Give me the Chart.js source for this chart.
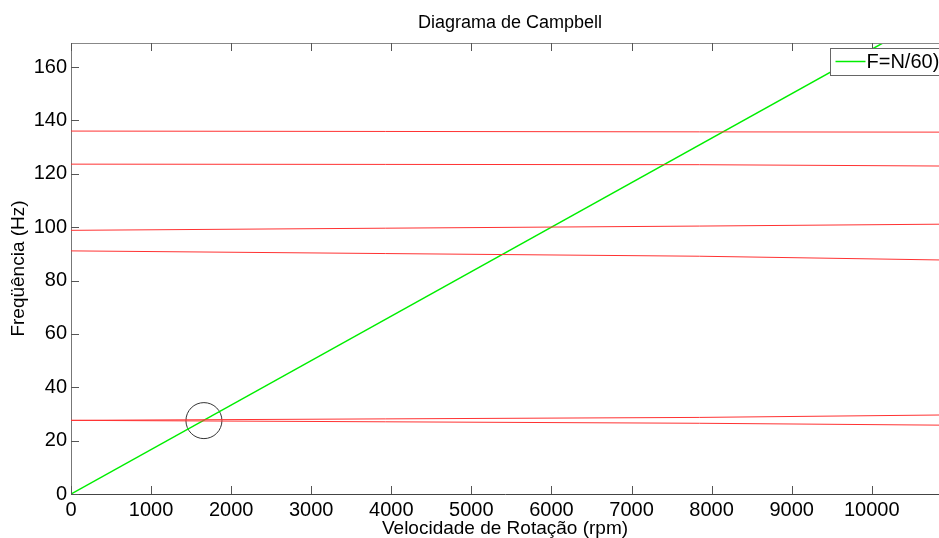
<!DOCTYPE html>
<html lang="pt">
<head>
<meta charset="UTF-8">
<title>Diagrama de Campbell</title>
<script src="https://cdn.jsdelivr.net/npm/chart.js"></script>
<style>
    body {
        margin: 0;
        background: #fff;
    }
    #wrap {
        width: 939px;
        height: 538px;
        position: relative;
    }
</style>
</head>
<body>
<div id="wrap"><canvas id="campbell"></canvas></div>
<script>
    // rotacao (rpm) onde as frequencias naturais foram lidas
    const rpm = [0, 7850, 10850];
    const modo1 = [136.0, 135.7, 135.6];
    const modo2 = [123.6, 123.4, 122.9];
    const modo3 = [98.8, 100.4, 101.1];
    const modo4 = [91.1, 89.1, 87.7];
    const modo5 = [27.6, 28.7, 29.6];
    const modo6 = [27.6, 26.5, 25.8];

    // reta de excitacao F = N/60
    const rpmExcitacao = [0, 10200];
    const freqExcitacao = [0, 170];
    const legendaExcitacao = 'F=N/60)';

    // ponto de ressonancia marcado
    const ressonancia = { x: 1660, y: 27.5 };

    const xTicks = [0, 1000, 2000, 3000, 4000, 5000, 6000, 7000, 8000, 9000, 10000];
    const yTicks = [0, 20, 40, 60, 80, 100, 120, 140, 160];

    const FONTE = "'Liberation Sans', Arial, Helvetica, sans-serif";

    function serie(ys, cor, largura) {
        return {
            data: rpm.map((x, i) => ({ x: x, y: ys[i] })),
            borderColor: cor,
            borderWidth: largura,
            pointRadius: 0,
            showLine: true,
            fill: false
        };
    }

    const vermelho = 'rgb(255, 50, 50)';

    const eixosMatlab = {
        id: 'eixosMatlab',
        afterDatasetsDraw(chart) {
            const { ctx, chartArea: a, scales: { x, y } } = chart;
            ctx.save();

            // borda superior
            ctx.lineWidth = 1;
            ctx.strokeStyle = '#888';
            ctx.beginPath();
            ctx.moveTo(a.left, a.top + 0.5);
            ctx.lineTo(a.right, a.top + 0.5);
            ctx.stroke();

            // marcas para dentro
            ctx.strokeStyle = '#555';
            ctx.beginPath();
            xTicks.forEach(v => {
                const px = Math.round(x.getPixelForValue(v)) + 0.5;
                ctx.moveTo(px, a.bottom);
                ctx.lineTo(px, a.bottom - 8);
                ctx.moveTo(px, a.top);
                ctx.lineTo(px, a.top + 8);
            });
            yTicks.forEach(v => {
                const py = Math.round(y.getPixelForValue(v)) + 0.5;
                ctx.moveTo(a.left, py);
                ctx.lineTo(a.left + 8, py);
            });
            ctx.stroke();

            // legenda
            const lx = 830.5, ly = 48.5;
            ctx.fillStyle = '#fff';
            ctx.fillRect(lx, ly, 130, 27);
            ctx.strokeStyle = '#666';
            ctx.strokeRect(lx, ly, 130, 27);
            ctx.strokeStyle = '#00ee00';
            ctx.lineWidth = 1.5;
            ctx.beginPath();
            ctx.moveTo(lx + 5, ly + 13);
            ctx.lineTo(lx + 35, ly + 13);
            ctx.stroke();
            ctx.fillStyle = '#000';
            ctx.font = '20px ' + FONTE;
            ctx.textBaseline = 'middle';
            ctx.textAlign = 'left';
            ctx.fillText(legendaExcitacao, lx + 36, ly + 14);

            // titulo
            ctx.font = '18px ' + FONTE;
            ctx.textAlign = 'center';
            ctx.textBaseline = 'alphabetic';
            ctx.fillText('Diagrama de Campbell', (a.left + a.right) / 2 + 5, 28);

            ctx.restore();
        }
    };

    new Chart(document.getElementById('campbell'), {
        type: 'scatter',
        data: {
            datasets: [
                serie(modo1, vermelho, 1),
                serie(modo2, vermelho, 1),
                serie(modo3, vermelho, 1),
                serie(modo4, vermelho, 1),
                serie(modo5, vermelho, 1),
                serie(modo6, vermelho, 1),
                {
                    label: legendaExcitacao,
                    data: rpmExcitacao.map((x, i) => ({ x: x, y: freqExcitacao[i] })),
                    borderColor: '#00ee00',
                    borderWidth: 1.5,
                    pointRadius: 0,
                    showLine: true
                },
                {
                    data: [ressonancia],
                    pointRadius: 18,
                    pointBorderColor: '#333',
                    pointBorderWidth: 1,
                    pointBackgroundColor: 'rgba(0,0,0,0)',
                    showLine: false
                }
            ]
        },
        options: {
            responsive: true,
            maintainAspectRatio: false,
            animation: false,
            events: [],
            layout: {
                autoPadding: false,
                padding: { top: 43, left: 0, right: 0, bottom: 0 }
            },
            plugins: {
                legend: { display: false },
                title: { display: false },
                tooltip: { enabled: false }
            },
            scales: {
                x: {
                    type: 'linear',
                    min: 0,
                    max: 10840,
                    grid: { display: false, drawTicks: false },
                    border: { display: true, color: '#444', width: 1 },
                    ticks: {
                        includeBounds: false,
                        autoSkip: false,
                        maxRotation: 0,
                        padding: 4,
                        color: '#000',
                        font: { family: FONTE, size: 20 },
                        callback: v => String(v)
                    },
                    afterBuildTicks: s => { s.ticks = xTicks.map(v => ({ value: v })); },
                    afterFit: s => {
                        s.height = 44;
                        s.paddingLeft = 0;
                        s.paddingRight = 0;
                    },
                    title: {
                        display: true,
                        text: 'Velocidade de Rotação (rpm)',
                        color: '#000',
                        font: { family: FONTE, size: 19, lineHeight: 1 },
                        padding: { top: 0, bottom: 0 }
                    }
                },
                y: {
                    type: 'linear',
                    min: 0,
                    max: 169,
                    grid: { display: false, drawTicks: false },
                    border: { display: true, color: '#777', width: 1 },
                    ticks: {
                        includeBounds: false,
                        autoSkip: false,
                        padding: 4,
                        color: '#000',
                        font: { family: FONTE, size: 20 },
                        callback: v => String(v)
                    },
                    afterBuildTicks: s => { s.ticks = yTicks.map(v => ({ value: v })); },
                    afterFit: s => { s.width = 71; },
                    title: {
                        display: true,
                        text: 'Freqüência (Hz)',
                        color: '#000',
                        font: { family: FONTE, size: 19, lineHeight: 1 },
                        padding: { top: 9, bottom: 0 }
                    }
                }
            }
        },
        plugins: [eixosMatlab]
    });
</script>
</body>
</html>
